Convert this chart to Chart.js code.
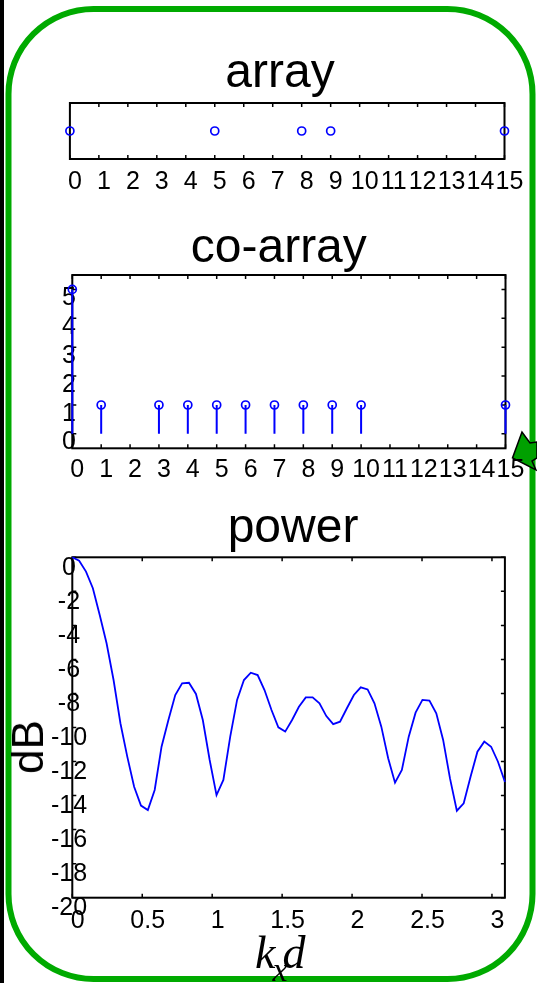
<!DOCTYPE html>
<html>
<head>
<meta charset="utf-8">
<title>array / co-array / power</title>
<script src="https://cdn.jsdelivr.net/npm/chart.js@4.4.1/dist/chart.umd.min.js"></script>
<style>
  html, body { margin: 0; padding: 0; background: #fff; }
  #page { position: relative; width: 537px; height: 983px; overflow: hidden; background: #fff; }
  #frame { position: absolute; left: 0; top: 0; }
  canvas { position: absolute; left: 0; }
  #dbLabel {
    position: absolute; left: 28px; top: 747px;
    transform: translate(-50%, -50%) rotate(-90deg);
    font: 44px 'Liberation Sans', Arial, sans-serif; line-height: 1; white-space: nowrap;
  }
  #kdLabel {
    position: absolute; left: 255px; top: 930px;
    font: italic 46px 'Liberation Serif', 'Times New Roman', serif; line-height: 1; white-space: nowrap;
  }
  #kdLabel .sub { font-size: 34px; position: relative; top: 13px; margin-left: -3px; margin-right: -5px; }
</style>
</head>
<body>
<div id="page">
  <svg id="frame" width="537" height="983">
    <rect x="0" y="0" width="4" height="983" fill="#000"/>
    <rect x="8.5" y="9" width="524" height="970" rx="85" ry="85" fill="none" stroke="#00aa00" stroke-width="6"/>
    <polygon points="522,432 512.5,458 536,470 532,461 537,458 537,442 530,443" fill="#00a000" stroke="#000" stroke-width="1.5"/>
  </svg>
  <canvas id="arrayChart" width="537" height="215" style="top:0px"></canvas>
  <canvas id="coarrayChart" width="537" height="300" style="top:200px"></canvas>
  <canvas id="powerChart" width="537" height="503" style="top:480px"></canvas>
  <div id="dbLabel">dB</div>
  <div id="kdLabel">k<span class="sub">x</span>d</div>
</div>

<script>
/* ===== Dados ===== */

// sensor positions of the array
const arrayPositions = [0, 5, 8, 9, 15];
const indexTicks = [0, 1, 2, 3, 4, 5, 6, 7, 8, 9, 10, 11, 12, 13, 14, 15];

// co-array: lag and how many times it occurs
const coLags = [0, 1, 3, 4, 5, 6, 7, 8, 9, 10, 15];
const coCounts = [5, 1, 1, 1, 1, 1, 1, 1, 1, 1, 1];
const coYTicks = [0, 1, 2, 3, 4, 5];

// power pattern
const kd = [
  0.000, 0.049, 0.098, 0.147, 0.196, 0.245, 0.295, 0.344, 0.393, 0.442,
  0.491, 0.540, 0.589, 0.638, 0.687, 0.736, 0.785, 0.834, 0.884, 0.933,
  0.982, 1.031, 1.080, 1.129, 1.178, 1.227, 1.276, 1.325, 1.374, 1.424,
  1.473, 1.522, 1.571, 1.620, 1.669, 1.718, 1.767, 1.816, 1.865, 1.914,
  1.963, 2.013, 2.062, 2.111, 2.160, 2.209, 2.258, 2.307, 2.356, 2.405,
  2.454, 2.503, 2.553, 2.602, 2.651, 2.700, 2.749, 2.798, 2.847, 2.896,
  2.945, 2.994, 3.043, 3.093
];
const powerDb = [
  0, -0.2, -0.84, -1.82, -3.39, -5.05, -7.21, -9.75, -11.71, -13.48,
  -14.59, -14.85, -13.67, -11.13, -9.56, -8.09, -7.4, -7.37, -8.03, -9.56,
  -11.91, -13.97, -13.08, -10.54, -8.38, -7.21, -6.78, -6.92, -7.8, -8.97,
  -9.99, -10.24, -9.56, -8.78, -8.23, -8.23, -8.58, -9.33, -9.8, -9.66,
  -8.87, -8.09, -7.64, -7.76, -8.58, -9.95, -11.81, -13.24, -12.5, -10.54,
  -9.13, -8.38, -8.42, -9.17, -10.73, -12.99, -14.89, -14.45, -12.89, -11.42,
  -10.83, -11.13, -12.01, -13.2
];
const powerXTicks = [0, 0.5, 1, 1.5, 2, 2.5, 3];
const powerYTicks = [-20, -18, -16, -14, -12, -10, -8, -6, -4, -2, 0];

/* ===== Config global ===== */

Chart.defaults.font.family = "'Liberation Sans', Arial, sans-serif";
Chart.defaults.color = '#000';
Chart.defaults.animation = false;

const BLUE = '#0000ff';
const TICK_FONT = { size: 25, lineHeight: 1 };

// box around the plot area with inward tick marks (matlab style)
const axesBox = {
  id: 'axesBox',
  beforeDatasetsDraw(chart, args, opts) {
    const { ctx, chartArea: a, scales } = chart;
    const len = opts.len || 4;
    ctx.save();
    ctx.strokeStyle = '#000';
    ctx.lineWidth = 1.5;
    ctx.beginPath();
    scales.x.ticks.forEach(t => {
      const px = scales.x.getPixelForValue(t.value);
      ctx.moveTo(px, a.top); ctx.lineTo(px, a.top + len);
      ctx.moveTo(px, a.bottom); ctx.lineTo(px, a.bottom - len);
    });
    if (opts.yTicks) {
      scales.y.ticks.forEach(t => {
        const py = scales.y.getPixelForValue(t.value);
        ctx.moveTo(a.left, py); ctx.lineTo(a.left + len, py);
        ctx.moveTo(a.right, py); ctx.lineTo(a.right - len, py);
      });
    }
    ctx.stroke();
    ctx.lineWidth = 2;
    ctx.strokeRect(a.left, a.top, a.right - a.left, a.bottom - a.top);
    ctx.restore();
  }
};

function useTicks(values) {
  return scale => { scale.ticks = values.map(v => ({ value: v })); };
}

function titleOpts(text, top, bottom) {
  return {
    display: true, text: text, color: '#000',
    font: { size: 48, weight: 'normal', lineHeight: 1 },
    padding: { top: top, bottom: bottom }
  };
}

function xAxis(min, max, ticks, height, pad, offset) {
  return {
    type: 'linear', position: 'bottom', min: min, max: max, offset: false,
    grid: { display: false, drawTicks: false, offset: false },
    border: { display: false },
    afterBuildTicks: useTicks(ticks),
    afterFit: s => { s.height = height; },
    ticks: {
      autoSkip: false, maxRotation: 0, minRotation: 0,
      padding: pad, labelOffset: offset, font: TICK_FONT,
      callback: v => String(v)
    }
  };
}

// labels sit on top of the axis line, so they are mirrored (no clipping)
function yAxis(min, max, ticks, width, pad, offset) {
  return {
    type: 'linear', position: 'left', min: min, max: max,
    grid: { display: false, drawTicks: false },
    border: { display: false },
    afterBuildTicks: useTicks(ticks),
    afterFit: s => { s.width = width; },
    ticks: {
      display: ticks.length > 0, autoSkip: false, mirror: true, crossAlign: 'center',
      padding: pad, labelOffset: offset, font: TICK_FONT,
      callback: v => String(v)
    }
  };
}

// empty axis on the right, only there to reserve space
function spacer(width) {
  return {
    type: 'linear', position: 'right', axis: 'y',
    grid: { display: false, drawTicks: false }, border: { display: false },
    ticks: { display: false },
    afterFit: s => { s.width = width; }
  };
}

function baseOptions(padLeft, title, scales, yTicks) {
  return {
    responsive: false,
    animation: false,
    layout: { padding: { left: padLeft, right: 0, top: 0, bottom: 0 } },
    plugins: {
      legend: { display: false },
      tooltip: { enabled: false },
      title: title,
      axesBox: { yTicks: yTicks, len: 4 }
    },
    scales: scales
  };
}

function markers(points) {
  return {
    type: 'scatter',
    data: points,
    pointStyle: 'circle',
    pointRadius: 4,
    pointBorderWidth: 1.7,
    pointBorderColor: BLUE,
    pointBackgroundColor: 'rgba(0,0,0,0)',
    showLine: false,
    clip: false,
    order: 0
  };
}

/* ===== array ===== */

new Chart(document.getElementById('arrayChart'), {
  type: 'scatter',
  data: {
    datasets: [markers(arrayPositions.map(x => ({ x: x, y: 0 })))]
  },
  options: baseOptions(23, titleOpts('array', 49.4, 5.6), {
    x: xAxis(0, 15, indexTicks, 56, 10.2, 5),
    y: yAxis(-1, 1, [], 46.9, 0, 0),
    yr: spacer(32.5)
  }, false),
  plugins: [axesBox]
});

/* ===== co-array ===== */

const stemPoints = [];
coLags.forEach((lag, i) => {
  stemPoints.push({ x: lag, y: 0 }, { x: lag, y: coCounts[i] }, { x: lag, y: null });
});

new Chart(document.getElementById('coarrayChart'), {
  type: 'scatter',
  data: {
    datasets: [
      markers(coLags.map((lag, i) => ({ x: lag, y: coCounts[i] }))),
      {
        type: 'scatter',
        data: stemPoints,
        showLine: true,
        spanGaps: false,
        borderColor: BLUE,
        borderWidth: 2,
        pointRadius: 0,
        clip: false,
        order: 1
      }
    ]
  },
  options: baseOptions(20.6, titleOpts('co-array', 24.4, 2.6), {
    x: xAxis(0, 15, indexTicks, 51.7, 9.2, 5),
    y: yAxis(-0.5, 5.5, coYTicks, 51.7, -10.2, 8.7),
    yr: spacer(31.5)
  }, true),
  plugins: [axesBox]
});

/* ===== power ===== */

new Chart(document.getElementById('powerChart'), {
  type: 'scatter',
  data: {
    datasets: [{
      data: kd.map((x, i) => ({ x: x, y: powerDb[i] })),
      showLine: true,
      borderColor: BLUE,
      borderWidth: 1.8,
      pointRadius: 0,
      tension: 0,
      clip: false
    }]
  },
  options: baseOptions(49, titleOpts('power', 24.4, 4.9), {
    x: xAxis(0, 3.0925, powerXTicks, 85.3, 11, 5.5),
    y: yAxis(-20, 0, powerYTicks, 23.3, -21.4, 10.4),
    yr: spacer(32.1)
  }, true),
  plugins: [axesBox]
});
</script>
</body>
</html>
